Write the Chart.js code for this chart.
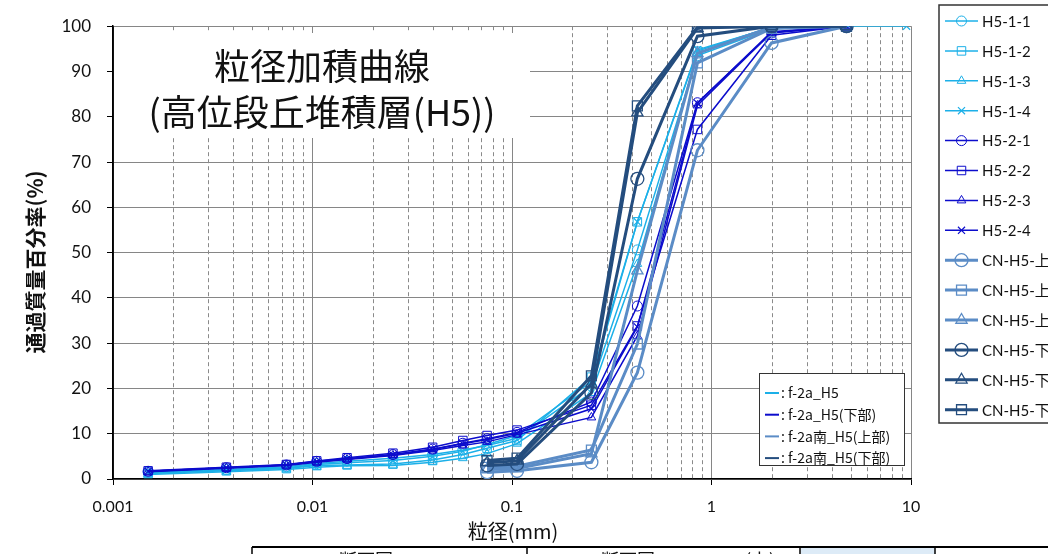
<!DOCTYPE html>
<html><head><meta charset="utf-8">
<script src="https://cdn.jsdelivr.net/npm/chart.js@4/dist/chart.umd.min.js"></script>
<style>html,body{margin:0;padding:0;background:#fff;overflow:hidden}</style>
</head><body><canvas id="c" width="1048" height="554"></canvas>
<script>
// ---- data ----
const sizesH5 = [0.0015, 0.0037, 0.0074, 0.0105, 0.0149, 0.0253, 0.040, 0.0567, 0.075, 0.106, 0.25, 0.425, 0.85, 2, 4.75];
const sizesH5ext = [0.0015, 0.0037, 0.0074, 0.0105, 0.0149, 0.0253, 0.040, 0.0567, 0.075, 0.106, 0.25, 0.425, 0.85, 2, 4.75, 9.5];
const sizesCN = [0.075, 0.106, 0.25, 0.425, 0.85, 2, 4.75];

const h5_1_1 = [1.5, 2.1, 2.7, 3.4, 3.9, 4.6, 5.4, 6.4, 7.4, 9.0, 20.5, 50.6, 93.5, 99.5, 100];
const h5_1_2 = [1.2, 1.8, 2.3, 3.0, 3.1, 3.3, 4.2, 5.4, 6.8, 8.5, 22.5, 56.8, 94.5, 99.8, 100];
const h5_1_3 = [1.0, 1.6, 2.1, 2.6, 2.9, 3.0, 3.7, 4.6, 5.6, 7.8, 19.0, 47.5, 94.0, 99.6, 100];
const h5_1_4 = [1.3, 2.0, 2.5, 3.2, 3.6, 4.1, 5.0, 6.1, 7.6, 9.6, 21.5, 56.8, 94.8, 99.7, 100, 100];
const h5_2_1 = [1.7, 2.5, 3.1, 3.9, 4.5, 5.4, 6.6, 7.9, 8.9, 10.3, 17.0, 38.2, 83.1, 98.5, 100];
const h5_2_2 = [1.8, 2.6, 3.2, 4.0, 4.7, 5.7, 7.0, 8.5, 9.6, 10.8, 16.3, 33.8, 77.2, 98.0, 100];
const h5_2_3 = [1.6, 2.4, 3.0, 3.7, 4.3, 5.2, 6.3, 7.4, 8.2, 9.8, 13.6, 31.6, 82.5, 98.6, 100];
const h5_2_4 = [1.7, 2.5, 3.1, 3.8, 4.4, 5.3, 6.5, 7.8, 8.7, 10.1, 15.5, 33.6, 83.0, 98.8, 100];
const cn_u1 = [1.5, 1.8, 3.7, 23.5, 72.6, 96.3, 100];
const cn_u2 = [2.6, 2.8, 6.4, 29.8, 91.9, 99.5, 100];
const cn_u3 = [2.1, 2.3, 5.6, 46.0, 94.0, 99.8, 100];
const cn_l1 = [3.0, 3.3, 19.0, 66.3, 97.8, 100, 100];
const cn_l2 = [3.6, 4.0, 21.0, 80.9, 99.6, 100, 100];
const cn_l3 = [4.1, 4.6, 22.8, 82.4, 99.8, 100, 100];

const seriesNames = ["H5-1-1","H5-1-2","H5-1-3","H5-1-4","H5-2-1","H5-2-2","H5-2-3","H5-2-4",
  "CN-H5-上1","CN-H5-上2","CN-H5-上3","CN-H5-下1","CN-H5-下2","CN-H5-下3"];
const groupNames = [": f-2a_H5", ": f-2a_H5(下部)", ": f-2a南_H5(上部)", ": f-2a南_H5(下部)"];
const xTickLabels = [0.001, 0.01, 0.1, 1, 10];
const yTickLabels = [0,10,20,30,40,50,60,70,80,90,100];
const titleLines = ["粒径加積曲線", "(高位段丘堆積層(H5))"];
const xTitle = "粒径(mm)";
const yTitle = "通過質量百分率(%)";

// ---- styles ----
const C_LB = "#1CB0E8", C_B = "#0C0CCC", C_ST = "#5B8CC6", C_NV = "#244D7E";
const groupColors = [C_LB, C_B, C_ST, C_NV];
const groupWidth = [1.5, 1.5, 3, 3];
const styleDefs = [
  [C_LB,1.5,'circle',5,1],[C_LB,1.5,'rect',6,1],[C_LB,1.5,'triangle',5,1],[C_LB,1.5,'crossRot',5,1.2],
  [C_B,1.5,'circle',5,1],[C_B,1.5,'rect',6,1],[C_B,1.5,'triangle',5,1],[C_B,1.5,'crossRot',5,1.2],
  [C_ST,3,'circle',6.5,1.3],[C_ST,3,'rect',7,1.3],[C_ST,3,'triangle',6.5,1.3],
  [C_NV,3,'circle',6.5,1.3],[C_NV,3,'triangle',6.5,1.3],[C_NV,3,'rect',7,1.3]
];
const xsFor = [sizesH5,sizesH5,sizesH5,sizesH5ext,sizesH5,sizesH5,sizesH5,sizesH5,sizesCN,sizesCN,sizesCN,sizesCN,sizesCN,sizesCN];
const ysFor = [h5_1_1,h5_1_2,h5_1_3,h5_1_4,h5_2_1,h5_2_2,h5_2_3,h5_2_4,cn_u1,cn_u2,cn_u3,cn_l1,cn_l2,cn_l3];

const datasets = seriesNames.map((n,i)=>{
  const s = styleDefs[i];
  return {
    label: n,
    data: xsFor[i].map((x,k)=>({x:x, y:ysFor[i][k]})),
    showLine: true, tension: 0,
    borderColor: s[0], borderWidth: s[1],
    pointStyle: s[2], pointRadius: s[3], pointBorderWidth: s[4],
    pointBorderColor: s[0], pointBackgroundColor: 'rgba(0,0,0,0)',
    order: 20 - i
  };
});

function drawMarker(ctx, style, x, y, r, color, lw){
  ctx.save(); ctx.strokeStyle = color; ctx.lineWidth = lw; ctx.beginPath();
  if (style==='circle'){ ctx.arc(x,y,r,0,Math.PI*2); }
  else if (style==='rect'){ const h=r*Math.SQRT1_2; ctx.rect(x-h,y-h,2*h,2*h); }
  else if (style==='triangle'){ const h=r*1.5/ Math.sqrt(3)*Math.sqrt(3); ctx.moveTo(x, y-r); ctx.lineTo(x+r*0.866*1.0, y+r*0.5*1.0+0.5*r*0.0); ctx.lineTo(x-r*0.866, y+r*0.5); ctx.closePath(); }
  else if (style==='crossRot'){ const h=r*Math.SQRT1_2; ctx.moveTo(x-h,y-h); ctx.lineTo(x+h,y+h); ctx.moveTo(x+h,y-h); ctx.lineTo(x-h,y+h); }
  ctx.stroke(); ctx.restore();
}

const decorPlugin = {
  id: 'decor',
  beforeDatasetsDraw(chart){
    const ctx = chart.ctx, xs = chart.scales.x, ca = chart.chartArea;
    ctx.save();
    // minor dashed grid
    ctx.strokeStyle = "#8A8A8A"; ctx.lineWidth = 1; ctx.setLineDash([4,3]);
    [0.001,0.01,0.1,1].forEach(d=>{ for(let m=2;m<=9;m++){
      const px = Math.round(xs.getPixelForValue(m*d))+0.5;
      ctx.beginPath(); ctx.moveTo(px, ca.top); ctx.lineTo(px, ca.bottom); ctx.stroke();
    }});
    ctx.setLineDash([]);
    // title box
    ctx.fillStyle = "#fff"; ctx.fillRect(114, 33, 416, 105);
    ctx.fillStyle = "#111"; ctx.font = "36px 'Noto Sans CJK JP'";
    ctx.textAlign = "center"; ctx.textBaseline = "middle";
    ctx.fillText(titleLines[0], 322, 66);
    ctx.fillText(titleLines[1], 322, 112);
    // y axis line redraw
    ctx.strokeStyle = "#000"; ctx.lineWidth = 1.5;
    ctx.beginPath(); ctx.moveTo(ca.left, ca.top); ctx.lineTo(ca.left, ca.bottom); ctx.stroke();
    ctx.restore();
  },
  afterDraw(chart){
    const ctx = chart.ctx;
    ctx.save();
    // axis titles
    ctx.fillStyle = "#111"; ctx.textAlign = "center"; ctx.textBaseline = "middle";
    ctx.font = "bold 21px 'Noto Sans CJK JP'";
    ctx.save(); ctx.translate(35, 262); ctx.rotate(-Math.PI/2); ctx.fillText(yTitle, 0, 0); ctx.restore();
    ctx.font = "20px 'Noto Sans CJK JP'";
    ctx.fillText(xTitle, 513, 531);
    // inner legend
    ctx.fillStyle = "#fff"; ctx.fillRect(759, 373, 145, 92);
    ctx.strokeStyle = "#333"; ctx.lineWidth = 1; ctx.strokeRect(759.5, 373.5, 145, 92);
    ctx.font = "14px 'Noto Sans CJK JP'"; ctx.textAlign = "left";
    groupNames.forEach((g,i)=>{
      const y = 393 + i*21.7;
      ctx.strokeStyle = groupColors[i]; ctx.lineWidth = 2;
      ctx.beginPath(); ctx.moveTo(765, y); ctx.lineTo(779, y); ctx.stroke();
      ctx.fillStyle = "#111"; ctx.fillText(g, 781, y);
    });
    // right legend
    ctx.fillStyle = "#fff"; ctx.fillRect(939, 5, 200, 418);
    ctx.strokeStyle = "#333"; ctx.lineWidth = 1.5; ctx.strokeRect(939, 5, 200, 418);
    ctx.font = "15px Lato";
    seriesNames.forEach((n,i)=>{
      const y = 21 + i*29.9, s = styleDefs[i];
      ctx.strokeStyle = s[0]; ctx.lineWidth = s[1];
      ctx.beginPath(); ctx.moveTo(945, y); ctx.lineTo(978, y); ctx.stroke();
      drawMarker(ctx, s[2], 961.5, y, s[3], s[0], s[4]);
      ctx.fillStyle = "#111"; ctx.font = "15px Lato, 'Noto Sans CJK JP'";
      ctx.fillText(n, 982, y+1);
    });
    // bottom table (cut off by page edge)
    ctx.fillStyle = "#DDEBF7"; ctx.fillRect(801, 548, 134, 10);
    ctx.strokeStyle = "#000"; ctx.lineWidth = 2;
    ctx.beginPath(); ctx.moveTo(252, 547); ctx.lineTo(1048, 547); ctx.stroke();
    ctx.lineWidth = 1.5;
    [252, 527, 800, 935].forEach(x=>{ ctx.beginPath(); ctx.moveTo(x, 547); ctx.lineTo(x, 554); ctx.stroke(); });
    ctx.fillStyle = "#111"; ctx.font = "18px 'Noto Sans CJK JP'"; ctx.textAlign = "center"; ctx.textBaseline = "top";
    ctx.fillText("断面図", 366, 551);
    ctx.fillText("断面図", 628, 551);
    ctx.fillText("(上)", 760, 551);
    ctx.restore();
  }
};

new Chart(document.getElementById('c'), {
  type: 'scatter',
  data: { datasets },
  options: {
    responsive: false, animation: false, devicePixelRatio: 1,
    layout: { padding: { top: 23, right: 137, left: 0, bottom: 0 } },
    plugins: { legend: { display: false }, tooltip: { enabled: false } },
    scales: {
      x: {
        type: 'logarithmic', min: 0.001, max: 10,
        afterBuildTicks(s){ s.ticks = xTickLabels.map(v=>({value:v})); },
        afterFit(s){ s.height = 75; },
        ticks: { autoSkip: false, maxRotation: 0, padding: 12, color: "#111", font: { family: "Lato", size: 16 },
          callback: (v)=> String(v) },
        grid: { color: "#868686", lineWidth: 1, tickLength: 6, tickColor: "#000" },
        border: { color: "#000", width: 1.5 }
      },
      y: {
        min: 0, max: 100,
        afterBuildTicks(s){ s.ticks = yTickLabels.map(v=>({value:v})); },
        afterFit(s){ s.width = 113; },
        ticks: { padding: 16, color: "#111", font: { family: "Lato", size: 17 } },
        grid: { color: "#868686", lineWidth: 1, tickLength: 6, tickColor: "#000" },
        border: { color: "#000", width: 1.5 }
      }
    }
  },
  plugins: [decorPlugin]
});
</script>
</body></html>
